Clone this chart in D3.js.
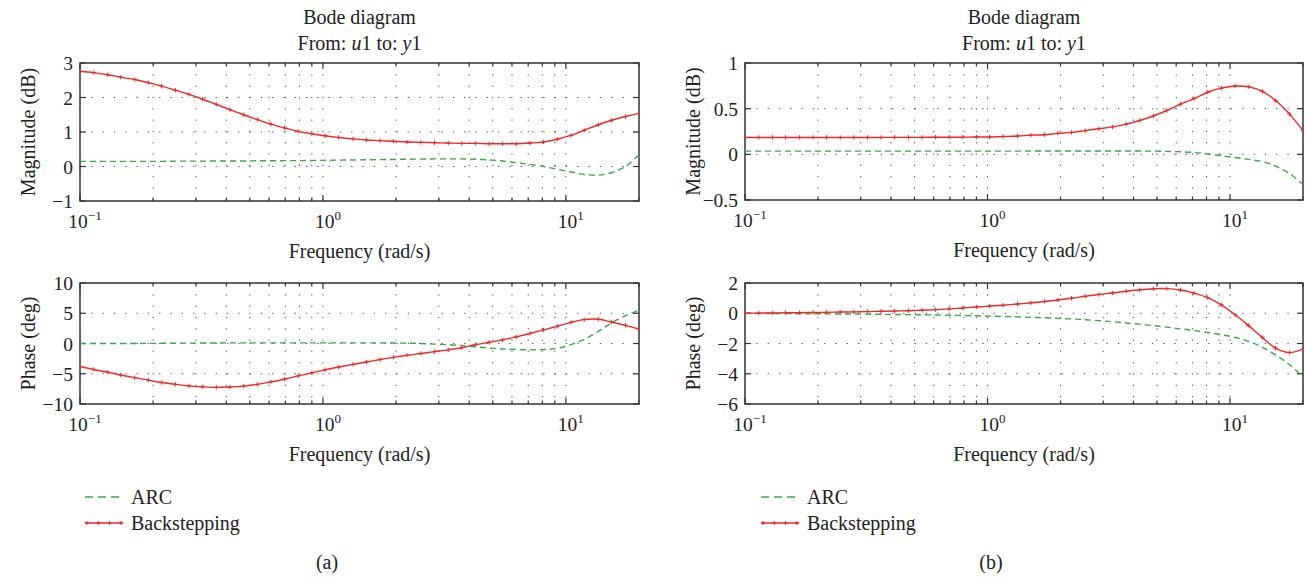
<!DOCTYPE html>
<html><head><meta charset="utf-8">
<script src="https://cdn.jsdelivr.net/npm/d3@7/dist/d3.min.js"></script>
<style>
body{margin:0;background:#fff;}
text{font-family:"Liberation Serif","DejaVu Serif",serif;fill:#222;}
</style></head><body>
<svg id="c" width="1305" height="577"></svg>
<script>
// Frequencies (rad/s), shared by all series
const freq = [0.100,0.114,0.130,0.147,0.168,0.191,0.217,0.247,0.281,0.320,0.364,0.414,0.472,0.537,0.611,0.695,0.791,0.900,1.02,1.16,1.33,1.51,1.72,1.95,2.22,2.53,2.88,3.28,3.73,4.24,4.83,5.49,6.25,7.11,8.09,9.21,10.5,11.9,13.6,15.4,17.6,20.0];

// (a) magnitude (dB)
const magArcA = [0.15,0.15,0.15,0.15,0.15,0.15,0.15,0.155,0.155,0.155,0.16,0.16,0.16,0.165,0.165,0.17,0.17,0.175,0.18,0.185,0.19,0.195,0.20,0.205,0.21,0.215,0.22,0.22,0.22,0.21,0.19,0.16,0.11,0.06,0.0,-0.08,-0.16,-0.23,-0.25,-0.18,0.0,0.34];
const magBackA = [2.76,2.72,2.66,2.59,2.52,2.43,2.33,2.21,2.09,1.95,1.80,1.65,1.50,1.36,1.23,1.12,1.02,0.95,0.89,0.84,0.80,0.77,0.75,0.73,0.71,0.70,0.69,0.68,0.67,0.67,0.66,0.66,0.66,0.68,0.71,0.79,0.90,1.05,1.21,1.34,1.45,1.54];
// (a) phase (deg)
const phArcA = [0,0,0,0,0,0.02,0.03,0.05,0.06,0.08,0.09,0.1,0.1,0.1,0.1,0.1,0.1,0.1,0.1,0.1,0.1,0.1,0.1,0.08,0.05,0.0,-0.1,-0.2,-0.35,-0.55,-0.75,-0.9,-1.0,-1.05,-1.0,-0.8,-0.15,0.7,2.0,3.4,4.6,5.5];
const phBackA = [-3.8,-4.3,-4.75,-5.2,-5.65,-6.05,-6.45,-6.75,-7.0,-7.15,-7.25,-7.2,-7.05,-6.75,-6.35,-5.9,-5.35,-4.85,-4.35,-3.9,-3.45,-3.05,-2.65,-2.3,-1.95,-1.65,-1.35,-1.05,-0.7,-0.2,0.2,0.6,1.1,1.65,2.25,2.85,3.5,3.95,4.0,3.55,3.0,2.4];

// (b) magnitude (dB)
const magArcB = [0.035,0.035,0.035,0.035,0.035,0.035,0.035,0.035,0.035,0.035,0.035,0.035,0.035,0.035,0.035,0.035,0.035,0.035,0.035,0.035,0.035,0.036,0.036,0.036,0.037,0.037,0.037,0.037,0.037,0.036,0.035,0.032,0.028,0.02,0.005,-0.015,-0.035,-0.055,-0.08,-0.13,-0.21,-0.33];
const magBackB = [0.185,0.185,0.185,0.185,0.185,0.185,0.185,0.185,0.185,0.185,0.185,0.186,0.186,0.186,0.187,0.187,0.188,0.19,0.19,0.195,0.20,0.21,0.215,0.23,0.24,0.26,0.28,0.30,0.33,0.37,0.42,0.48,0.55,0.61,0.68,0.725,0.748,0.74,0.69,0.59,0.44,0.26];
// (b) phase (deg)
const phArcB = [0,-0.01,-0.02,-0.02,-0.03,-0.03,-0.04,-0.05,-0.05,-0.06,-0.07,-0.08,-0.09,-0.1,-0.12,-0.13,-0.15,-0.17,-0.19,-0.21,-0.24,-0.27,-0.3,-0.34,-0.38,-0.43,-0.49,-0.56,-0.64,-0.72,-0.82,-0.92,-1.03,-1.14,-1.27,-1.42,-1.6,-1.85,-2.25,-2.75,-3.4,-4.2];
const phBackB = [0.0,0.01,0.02,0.03,0.04,0.05,0.06,0.08,0.09,0.11,0.13,0.15,0.17,0.2,0.24,0.29,0.35,0.41,0.47,0.53,0.61,0.69,0.78,0.88,0.99,1.12,1.24,1.34,1.45,1.55,1.62,1.63,1.54,1.33,1.03,0.56,-0.1,-0.8,-1.6,-2.3,-2.6,-2.37];

const magTicksA = [-1,0,1,2,3];
const phTicksA = [-10,-5,0,5,10];
const magTicksB = [-0.5,0,0.5,1];
const phTicksB = [-6,-4,-2,0,2];
const decadeTicks = [0.1,1,10];
const seriesNames = ["ARC","Backstepping"];

const GREEN = "#3aa845", RED = "#f0282a", AX = "#333";
const FS = 20, TFS = 19.5;
const svg = d3.select("#c");
const fmt = d => (d < 0 ? "\u2212" + Math.abs(d) : String(d));

function minorTicks(){
  const t=[];
  [0.1,1,10].forEach(dec=>{for(let k=1;k<=9;k++){const v=dec*k; if(v>=0.1&&v<=20) t.push(v);}});
  return t;
}

function drawAxes(g, x, y, yTicks, yLabel){
  const [x0,x1]=x.range(), [yb,yt]=y.range();
  const inner = minorTicks().filter(v=>v>0.1 && v<20);
  g.selectAll(".vg").data(inner).join("line")
    .attr("x1",d=>x(d)).attr("x2",d=>x(d)).attr("y1",yt).attr("y2",yb)
    .attr("stroke",AX).attr("stroke-width",1).attr("stroke-dasharray","1.3,10").attr("opacity",0.85);
  g.selectAll(".hg").data(yTicks.filter(v=>y(v)>yt+1 && y(v)<yb-1)).join("line")
    .attr("x1",x0).attr("x2",x1).attr("y1",d=>y(d)).attr("y2",d=>y(d))
    .attr("stroke",AX).attr("stroke-width",1).attr("stroke-dasharray","1.3,10").attr("opacity",0.85);
  minorTicks().forEach(v=>{
    const major = decadeTicks.includes(v);
    const L = major?6:3.5;
    g.append("line").attr("x1",x(v)).attr("x2",x(v)).attr("y1",yb).attr("y2",yb-L).attr("stroke",AX).attr("stroke-width",1.2);
    g.append("line").attr("x1",x(v)).attr("x2",x(v)).attr("y1",yt).attr("y2",yt+L).attr("stroke",AX).attr("stroke-width",1.2);
  });
  yTicks.forEach(v=>{
    g.append("line").attr("x1",x0).attr("x2",x0+6).attr("y1",y(v)).attr("y2",y(v)).attr("stroke",AX).attr("stroke-width",1.2);
    g.append("line").attr("x1",x1).attr("x2",x1-6).attr("y1",y(v)).attr("y2",y(v)).attr("stroke",AX).attr("stroke-width",1.2);
    g.append("text").attr("x",x0-7).attr("y",y(v)+7).attr("text-anchor","end").attr("font-size",TFS).text(fmt(v));
  });
  decadeTicks.forEach((v,i)=>{
    const t = g.append("text").attr("x",x(v)+5).attr("y",yb+27).attr("text-anchor","middle").attr("font-size",TFS);
    t.append("tspan").text("10");
    t.append("tspan").attr("dy",-8).attr("font-size",13).text(["\u22121","0","1"][i]);
  });
  g.append("rect").attr("x",x0).attr("y",yt).attr("width",x1-x0).attr("height",yb-yt)
    .attr("fill","none").attr("stroke",AX).attr("stroke-width",1.5);
  g.append("text").attr("x",(x0+x1)/2).attr("y",yb+57).attr("text-anchor","middle").attr("font-size",FS).text("Frequency (rad/s)");
  g.append("text").attr("transform",`translate(${x0-45},${(yt+yb)/2}) rotate(-90)`).attr("text-anchor","middle").attr("font-size",FS).text(yLabel);
}

function drawSeries(g, x, y, arc, back){
  const pts = (v)=>freq.map((f,i)=>[f,v[i]]);
  const line = d3.line().x(d=>x(d[0])).y(d=>y(d[1])).curve(d3.curveCatmullRom);
  const clipId = "cl"+Math.random().toString(36).slice(2);
  const [x0,x1]=x.range(), [yb,yt]=y.range();
  g.append("clipPath").attr("id",clipId).append("rect").attr("x",x0).attr("y",yt-2).attr("width",x1-x0).attr("height",yb-yt+4);
  const cg = g.append("g").attr("clip-path",`url(#${clipId})`);
  cg.append("path").attr("d",line(pts(arc))).attr("fill","none").attr("stroke",GREEN).attr("stroke-width",1.4).attr("stroke-dasharray","6,4");
  cg.append("path").attr("d",line(pts(back))).attr("fill","none").attr("stroke",RED).attr("stroke-width",1.4);
  const s=2.2;
  cg.selectAll(".mk").data(pts(back)).join("path")
    .attr("d",d=>`M${x(d[0])-s},${y(d[1])}H${x(d[0])+s}M${x(d[0])},${y(d[1])-s}V${y(d[1])+s}`)
    .attr("stroke",RED).attr("stroke-width",1);
}

function panel(cfg){
  const g = svg.append("g");
  const x = d3.scaleLog().domain([0.1,20]).range([cfg.x0,cfg.x1]);
  const yM = d3.scaleLinear().domain(cfg.magDomain).range([cfg.magY[1],cfg.magY[0]]);
  const yP = d3.scaleLinear().domain(cfg.phDomain).range([cfg.phY[1],cfg.phY[0]]);
  const cx=(cfg.x0+cfg.x1)/2;
  g.append("text").attr("x",cx).attr("y",24).attr("text-anchor","middle").attr("font-size",FS).text("Bode diagram");
  const t2=g.append("text").attr("x",cx).attr("y",50).attr("text-anchor","middle").attr("font-size",FS);
  t2.append("tspan").text("From: ");
  t2.append("tspan").attr("font-style","italic").text("u");
  t2.append("tspan").text("1 to: ");
  t2.append("tspan").attr("font-style","italic").text("y");
  t2.append("tspan").text("1");
  drawAxes(g,x,yM,cfg.magTicks,"Magnitude (dB)");
  drawSeries(g,x,yM,cfg.magArc,cfg.magBack);
  drawAxes(g,x,yP,cfg.phTicks,"Phase (deg)");
  drawSeries(g,x,yP,cfg.phArc,cfg.phBack);
  const lx=cfg.legX;
  g.append("line").attr("x1",lx).attr("x2",lx+38).attr("y1",497).attr("y2",497).attr("stroke",GREEN).attr("stroke-width",1.4).attr("stroke-dasharray","8,5");
  g.append("text").attr("x",lx+46).attr("y",504).attr("font-size",FS).text(seriesNames[0]);
  g.append("line").attr("x1",lx).attr("x2",lx+38).attr("y1",523).attr("y2",523).attr("stroke",RED).attr("stroke-width",1.4);
  [0,1,2,3].forEach(k=>{
    const mx=lx+2+k*11.3;
    g.append("path").attr("d",`M${mx-2},523H${mx+2}M${mx},521V525`).attr("stroke",RED).attr("stroke-width",1);
  });
  g.append("text").attr("x",lx+46).attr("y",530).attr("font-size",FS).text(seriesNames[1]);
  g.append("text").attr("x",cfg.capX).attr("y",569).attr("text-anchor","middle").attr("font-size",FS).text(cfg.cap);
}

panel({x0:80,x1:639,magY:[63,201],phY:[283,404],magDomain:[-1,3],phDomain:[-10,10],
  magTicks:magTicksA,phTicks:phTicksA,magArc:magArcA,magBack:magBackA,phArc:phArcA,phBack:phBackA,legX:85,capX:327,cap:"(a)"});
panel({x0:745,x1:1303,magY:[63,200],phY:[283,404],magDomain:[-0.5,1],phDomain:[-6,2],
  magTicks:magTicksB,phTicks:phTicksB,magArc:magArcB,magBack:magBackB,phArc:phArcB,phBack:phBackB,legX:761,capX:991,cap:"(b)"});
</script></body></html>
